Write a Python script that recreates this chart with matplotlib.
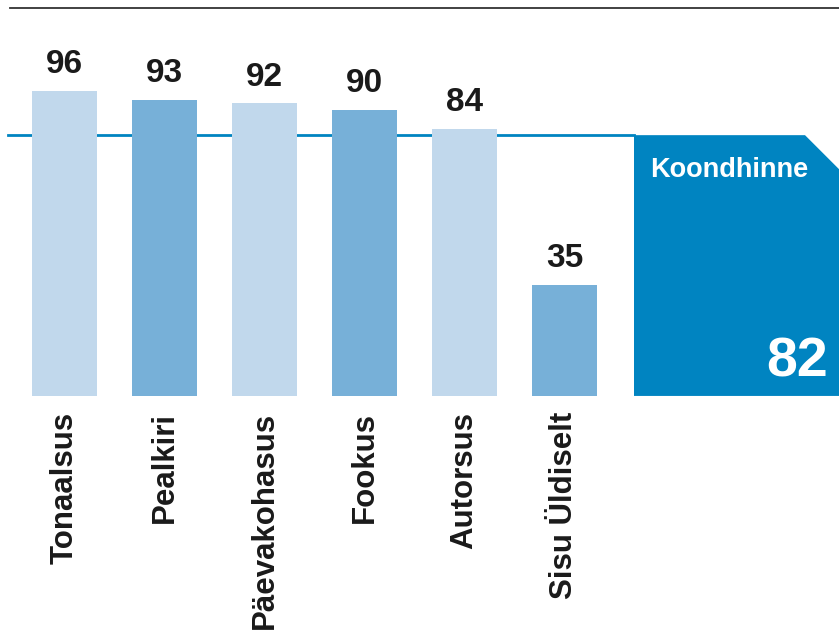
import matplotlib
matplotlib.use("Agg")
import matplotlib.pyplot as plt
from matplotlib.patches import Polygon

plt.rcParams['font.family'] = ['Liberation Sans', 'DejaVu Sans']

categories = ["Tonaalsus", "Pealkiri", "Päevakohasus", "Fookus", "Autorsus", "Sisu Üldiselt"]
values = [96, 93, 92, 90, 84, 35]
total_label = "Koondhinne"
total_value = 82

light = "#c1d8ec"
mid = "#77b0d8"
dark = "#0084c1"
text_col = "#1a1a1a"

fig = plt.figure(figsize=(8.39, 6.3), dpi=100)
ax = fig.add_axes([0, 0, 1, 1])
ax.set_xlim(-0.645, 7.745)
ax.set_ylim(-73.6, 124.5)
ax.axis("off")

x = list(range(len(values)))
colors = [light if i % 2 == 0 else mid for i in x]

# average line behind the bars
ax.plot([-0.565, 5.695], [total_value, total_value], color=dark, lw=2, zorder=1)
# top rule
ax.plot([-0.545, 7.745], [122, 122], color="#333333", lw=1.3, zorder=1)

ax.bar(x, values, width=0.65, color=colors, zorder=2)

for xi, v, name in zip(x, values, categories):
    ax.text(xi, v + 5.6, str(v), ha="center", va="baseline", fontsize=24,
            fontweight="bold", color=text_col)
    ax.text(xi, -5, name, ha="center", va="top", rotation=90, fontsize=22.5,
            fontweight="bold", color=text_col)

# summary box with chamfered corner
x0, x1 = 5.695, 7.745
cut = 0.34
cut_y = cut * 100 / 3.18
box = Polygon([(x0, 0), (x0, total_value), (x1 - cut, total_value),
               (x1, total_value - cut_y), (x1, 0)],
              closed=True, facecolor=dark, edgecolor="none", zorder=2)
ax.add_patch(box)
ax.text(x0 + 0.16, total_value - 13.3, total_label, ha="left", va="baseline",
        fontsize=19.5, fontweight="bold", color="white", zorder=3)
ax.text(x1 - 0.11, 6, str(total_value), ha="right", va="baseline",
        fontsize=40, fontweight="bold", color="white", zorder=3)

fig.savefig("out.png", dpi=100)
